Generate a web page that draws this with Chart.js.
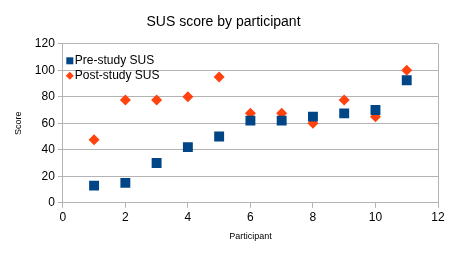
<!DOCTYPE html>
<html lang="en">
<head>
    <meta charset="UTF-8">
    <title>SUS score by participant</title>
    <script src="https://cdn.jsdelivr.net/npm/chart.js"></script>
    <style>
        html, body { margin: 0; padding: 0; background: white; }
        #wrap { width: 454px; height: 255px; }
    </style>
</head>
<body>
    <div id="wrap"><canvas id="susChart"></canvas></div>
    <script>
        // Data
        var participants = [1, 2, 3, 4, 5, 6, 7, 8, 9, 10, 11];
        var preStudy = [13, 15, 30, 42, 50, 62, 62, 65, 67.5, 70, 92.5];
        var postStudy = [47.5, 77.5, 77.5, 80, 95, 67.5, 67.5, 60, 77.5, 65, 100];
        var seriesNames = ['Pre-study SUS', 'Post-study SUS'];

        var blue = '#004586';
        var orange = '#ff420e';
        var gridGrey = '#b3b3b3';

        function toPoints(ys) {
            return participants.map(function (x, i) { return { x: x, y: ys[i] }; });
        }

        // legend drawn inside the plot area, like the original
        var insideLegend = {
            id: 'insideLegend',
            afterDraw: function (chart) {
                var ctx = chart.ctx;
                var area = chart.chartArea;
                ctx.save();
                ctx.font = '12px "Liberation Sans", Arial, sans-serif';
                ctx.textBaseline = 'middle';
                var x0 = area.left + 7;
                var y0 = area.top + 17;
                // square
                ctx.fillStyle = blue;
                ctx.fillRect(x0 - 3.5, y0 - 3.5, 7, 7);
                ctx.fillStyle = '#000';
                ctx.fillText(seriesNames[0], x0 + 5, y0);
                // diamond
                var y1 = y0 + 15;
                ctx.fillStyle = orange;
                ctx.beginPath();
                ctx.moveTo(x0, y1 - 4);
                ctx.lineTo(x0 + 4, y1);
                ctx.lineTo(x0, y1 + 4);
                ctx.lineTo(x0 - 4, y1);
                ctx.closePath();
                ctx.fill();
                ctx.fillStyle = '#000';
                ctx.fillText(seriesNames[1], x0 + 5, y1);
                ctx.restore();
            }
        };

        var ctx = document.getElementById('susChart').getContext('2d');
        var susChart = new Chart(ctx, {
            type: 'scatter',
            data: {
                datasets: [{
                    label: seriesNames[0],
                    data: toPoints(preStudy),
                    pointStyle: 'rect',
                    pointRadius: 7,
                    backgroundColor: blue,
                    borderColor: blue,
                    borderWidth: 0
                }, {
                    label: seriesNames[1],
                    data: toPoints(postStudy),
                    pointStyle: 'rectRot',
                    pointRadius: 5.5,
                    backgroundColor: orange,
                    borderColor: orange,
                    borderWidth: 0
                }]
            },
            plugins: [insideLegend],
            options: {
                responsive: true,
                maintainAspectRatio: false,
                animation: false,
                layout: { padding: { left: 9, right: 16, top: 0, bottom: 9 } },
                plugins: {
                    legend: { display: false },
                    tooltip: { enabled: false },
                    title: {
                        display: true,
                        text: 'SUS score by participant',
                        color: '#000',
                        font: { family: '"Liberation Sans", Arial, sans-serif', size: 14, weight: 'normal' },
                        padding: { top: 14, bottom: 13 }
                    }
                },
                scales: {
                    x: {
                        type: 'linear',
                        min: 0,
                        max: 12,
                        ticks: {
                            stepSize: 2,
                            color: '#000',
                            padding: 3,
                            font: { family: '"Liberation Sans", Arial, sans-serif', size: 12 }
                        },
                        grid: {
                            color: function (c) { return c.index === 6 ? gridGrey : 'rgba(0,0,0,0)'; },
                            tickColor: gridGrey,
                            tickLength: 5
                        },
                        border: { color: gridGrey },
                        title: {
                            display: true,
                            text: 'Participant',
                            color: '#000',
                            font: { family: '"Liberation Sans", Arial, sans-serif', size: 9 },
                            padding: { top: 3 }
                        }
                    },
                    y: {
                        min: 0,
                        max: 120,
                        ticks: {
                            stepSize: 20,
                            color: '#000',
                            padding: 3,
                            font: { family: '"Liberation Sans", Arial, sans-serif', size: 12 }
                        },
                        grid: {
                            color: gridGrey,
                            tickColor: gridGrey,
                            tickLength: 5
                        },
                        border: { color: gridGrey },
                        title: {
                            display: true,
                            text: 'Score',
                            color: '#000',
                            font: { family: '"Liberation Sans", Arial, sans-serif', size: 9 },
                            padding: { bottom: 8 }
                        }
                    }
                }
            }
        });
    </script>
</body>
</html>
